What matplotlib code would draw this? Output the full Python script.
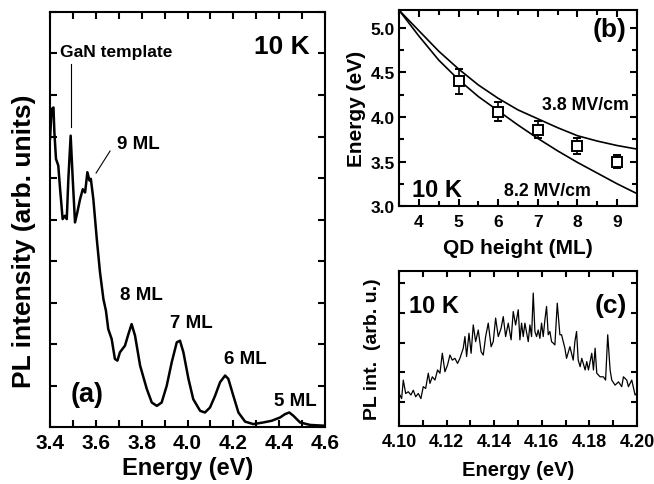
import numpy as np
import matplotlib
matplotlib.use("Agg")
import matplotlib.pyplot as plt
from matplotlib.ticker import MultipleLocator, NullFormatter

plt.rcParams['font.family'] = ['Liberation Sans', 'DejaVu Sans']
plt.rcParams['font.weight'] = 'bold'
plt.rcParams['axes.labelweight'] = 'bold'
plt.rcParams['axes.linewidth'] = 1.5

# (a) PL spectrum, intensity in arb. units (0-10 scale)
energy_a = [3.400, 3.407, 3.415, 3.419, 3.426, 3.436, 3.444, 3.455, 3.465, 3.473,
            3.480, 3.490, 3.499, 3.509, 3.519, 3.531, 3.543, 3.553, 3.563, 3.572,
            3.578, 3.589, 3.604, 3.618, 3.633, 3.644, 3.654, 3.669, 3.683, 3.694,
            3.705, 3.727, 3.742, 3.756, 3.771, 3.793, 3.822, 3.844, 3.866, 3.887,
            3.909, 3.931, 3.953, 3.967, 3.982, 4.004, 4.025, 4.055, 4.076, 4.098,
            4.120, 4.142, 4.164, 4.178, 4.200, 4.222, 4.251, 4.287, 4.331, 4.367,
            4.404, 4.425, 4.444, 4.462, 4.491, 4.535, 4.600]
intensity_a = [6.94, 7.66, 7.70, 7.10, 6.46, 6.30, 5.73, 5.01, 5.09, 5.01,
               5.98, 7.02, 5.98, 4.93, 5.17, 5.49, 5.73, 5.65, 6.14, 5.94,
               5.98, 5.49, 4.53, 3.73, 3.08, 2.80, 2.36, 2.12, 1.64, 1.60,
               1.80, 1.96, 2.24, 2.48, 2.20, 1.48, 0.92, 0.59, 0.51, 0.59,
               0.99, 1.56, 2.04, 2.08, 1.80, 1.16, 0.67, 0.39, 0.35, 0.47,
               0.75, 1.08, 1.24, 1.16, 0.75, 0.35, 0.13, 0.07, 0.11, 0.15,
               0.23, 0.31, 0.35, 0.27, 0.11, 0.05, 0.03]
peak_labels = ["8 ML", "7 ML", "6 ML", "5 ML"]
peak_label_pos = [(3.797, 3.20), (4.015, 2.53), (4.251, 1.64), (4.469, 0.63)]

# (b) QD transition energy vs height
qd_height = [5, 6, 7, 8, 9]
qd_energy = [4.40, 4.06, 3.86, 3.68, 3.50]
qd_err = [0.14, 0.11, 0.10, 0.09, 0.07]
model_height = [3.5, 4.0, 4.5, 5.0, 5.5, 6.0, 6.5, 7.0, 7.5, 8.0, 8.5, 9.0, 9.5]
model_38 = [5.20, 4.97, 4.74, 4.54, 4.36, 4.21, 4.08, 3.98, 3.88, 3.79, 3.73, 3.68, 3.64]
model_82 = [5.20, 4.91, 4.64, 4.42, 4.23, 4.07, 3.91, 3.76, 3.62, 3.49, 3.37, 3.25, 3.14]

# (c) high resolution spectrum of the 6 ML peak
energy_c = [4.1000, 4.1011, 4.1018, 4.1028, 4.1039, 4.1050, 4.1060, 4.1070, 4.1081, 4.1092,
            4.1102, 4.1112, 4.1123, 4.1130, 4.1140, 4.1151, 4.1162, 4.1172, 4.1182, 4.1193,
            4.1204, 4.1214, 4.1224, 4.1235, 4.1246, 4.1256, 4.1270, 4.1277, 4.1284, 4.1294,
            4.1303, 4.1312, 4.1322, 4.1333, 4.1345, 4.1354, 4.1364, 4.1375, 4.1387, 4.1396,
            4.1406, 4.1417, 4.1429, 4.1438, 4.1448, 4.1459, 4.1471, 4.1480, 4.1490, 4.1501,
            4.1508, 4.1515, 4.1522, 4.1529, 4.1543, 4.1550, 4.1557, 4.1564, 4.1571, 4.1578,
            4.1585, 4.1592, 4.1599, 4.1606, 4.1613, 4.1620, 4.1627, 4.1634, 4.1641, 4.1648,
            4.1655, 4.1665, 4.1676, 4.1683, 4.1697, 4.1704, 4.1718, 4.1732, 4.1739, 4.1746,
            4.1753, 4.1761, 4.1768, 4.1782, 4.1789, 4.1796, 4.1810, 4.1817, 4.1824, 4.1831,
            4.1845, 4.1859, 4.1868, 4.1877, 4.1887, 4.1894, 4.1908, 4.1922, 4.1936, 4.1943,
            4.1957, 4.1964, 4.1978, 4.1992, 4.2000]
intensity_c = [0.30, 0.12, 0.74, 0.29, 0.35, 0.24, 0.40, 0.18, 0.29, 0.12,
               0.52, 0.46, 0.97, 0.63, 0.85, 0.74, 1.08, 0.97, 1.64, 1.02,
               1.25, 1.58, 1.41, 1.47, 1.30, 1.47, 1.81, 2.20, 1.53, 2.31,
               1.64, 2.59, 2.03, 2.42, 1.69, 1.58, 2.20, 2.65, 1.86, 2.03,
               2.82, 2.20, 2.48, 2.87, 2.20, 2.65, 2.09, 3.04, 2.59, 3.10,
               2.09, 2.65, 2.20, 2.65, 2.03, 2.59, 2.20, 3.66, 2.37, 2.20,
               2.42, 2.14, 2.65, 2.20, 2.76, 3.21, 2.26, 2.37, 2.03, 1.98,
               1.92, 3.32, 2.26, 2.26, 1.81, 1.47, 1.86, 1.41, 2.03, 2.37,
               1.41, 1.19, 1.47, 1.08, 1.36, 1.08, 1.64, 1.08, 1.81, 0.97,
               0.85, 0.85, 0.74, 2.26, 1.08, 0.74, 0.57, 0.68, 0.52, 0.85,
               0.74, 0.52, 0.74, 0.24, 0.30]


def style_ticks(ax):
    ax.tick_params(which='both', direction='in', top=True, right=True,
                   width=1.5, labelsize=12.5, pad=4)
    ax.tick_params(which='major', length=5)
    ax.tick_params(which='minor', length=3.5)


fig = plt.figure(figsize=(6.54, 4.85), dpi=100)

# ---- panel (a)
ax_a = fig.add_axes([0.0765, 0.1175, 0.4205, 0.8557])
ax_a.plot(energy_a, intensity_a, color='black', lw=1.8)
ax_a.set_xlim(3.4, 4.6)
ax_a.set_ylim(0, 10)
ax_a.xaxis.set_major_locator(MultipleLocator(0.2))
ax_a.xaxis.set_minor_locator(MultipleLocator(0.1))
ax_a.yaxis.set_major_locator(MultipleLocator(1))
ax_a.yaxis.set_major_formatter(NullFormatter())
style_ticks(ax_a)
ax_a.tick_params(which='both', length=5, labelsize=15)
ax_a.set_xticks(np.arange(3.4, 4.61, 0.2))
ax_a.set_xticklabels(['3.4', '3.6', '3.8', '4.0', '4.2', '4.4', '4.6'])
ax_a.set_xlabel('Energy (eV)', fontsize=17)
ax_a.xaxis.set_label_coords(0.5, -0.07)
ax_a.set_ylabel('PL intensity (arb. units)', fontsize=19)
ax_a.yaxis.set_label_coords(-0.05, 0.45)

ax_a.plot([3.49, 3.49], [8.75, 7.23], color='black', lw=0.8)
ax_a.plot([3.662, 3.601], [6.65, 6.12], color='black', lw=0.8)
ax_a.text(3.688, 9.06, 'GaN template', fontsize=12.5, ha='center', va='center')
ax_a.text(3.784, 6.82, '9 ML', fontsize=13.5, ha='center', va='center')
for lab, (px, py) in zip(peak_labels, peak_label_pos):
    ax_a.text(px, py, lab, fontsize=13.5, ha='center', va='center')
ax_a.text(4.412, 9.18, '10 K', fontsize=19, ha='center', va='center')
ax_a.text(3.561, 0.80, '(a)', fontsize=19.5, ha='center', va='center')

# ---- panel (b)
ax_b = fig.add_axes([0.6101, 0.573, 0.3639, 0.404])
ax_b.plot(model_height, model_38, color='black', lw=1.2)
ax_b.plot(model_height, model_82, color='black', lw=1.2)
ax_b.errorbar(qd_height, qd_energy, yerr=qd_err, fmt='s', mfc='white', mec='black',
              ms=7, mew=1.4, ecolor='black', elinewidth=1.2, capsize=3, capthick=1.2)
ax_b.set_xlim(3.5, 9.5)
ax_b.set_ylim(3.0, 5.2)
ax_b.xaxis.set_major_locator(MultipleLocator(1))
ax_b.xaxis.set_minor_locator(MultipleLocator(0.5))
ax_b.yaxis.set_major_locator(MultipleLocator(0.5))
ax_b.yaxis.set_minor_locator(MultipleLocator(0.25))
ax_b.yaxis.set_major_formatter(matplotlib.ticker.FormatStrFormatter('%.1f'))
style_ticks(ax_b)
ax_b.tick_params(axis='y', pad=3)
ax_b.tick_params(axis='x', pad=6)
ax_b.set_xlabel('QD height (ML)', fontsize=15)
ax_b.xaxis.set_label_coords(0.5, -0.165)
ax_b.set_ylabel('Energy (eV)', fontsize=15)
ax_b.yaxis.set_label_coords(-0.14, 0.5)
ax_b.text(8.81, 4.99, '(b)', fontsize=19, ha='center', va='center')
ax_b.text(8.19, 4.14, '3.8 MV/cm', fontsize=12.8, ha='center', va='center')
ax_b.text(7.23, 3.17, '8.2 MV/cm', fontsize=12.8, ha='center', va='center')
ax_b.text(4.46, 3.19, '10 K', fontsize=17, ha='center', va='center')

# ---- panel (c)
ax_c = fig.add_axes([0.6101, 0.1196, 0.3639, 0.3196])
ax_c.plot(energy_c, intensity_c, color='black', lw=0.9)
ax_c.set_xlim(4.10, 4.20)
ax_c.set_ylim(-0.8, 4.4)
ax_c.xaxis.set_major_locator(MultipleLocator(0.02))
ax_c.xaxis.set_minor_locator(MultipleLocator(0.01))
ax_c.xaxis.set_major_formatter(matplotlib.ticker.FormatStrFormatter('%.2f'))
ax_c.yaxis.set_major_locator(MultipleLocator(1))
ax_c.yaxis.set_major_formatter(NullFormatter())
style_ticks(ax_c)
ax_c.tick_params(which='both', length=4.5, labelsize=13)
ax_c.tick_params(axis='x', pad=5)
ax_c.set_xlabel('Energy (eV)', fontsize=14.5)
ax_c.xaxis.set_label_coords(0.5, -0.22)
ax_c.set_ylabel('PL int.  (arb. u.)', fontsize=14)
ax_c.yaxis.set_label_coords(-0.075, 0.5)
ax_c.text(0.04, 0.78, '10 K', transform=ax_c.transAxes, fontsize=17, ha='left', va='center')
ax_c.text(0.96, 0.78, '(c)', transform=ax_c.transAxes, fontsize=19, ha='right', va='center')

fig.savefig('out.png', dpi=100)
